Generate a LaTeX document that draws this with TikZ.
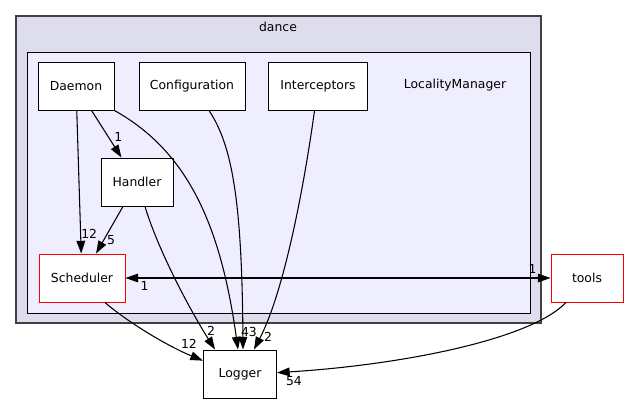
\documentclass[tikz,border=0pt]{standalone}
\usepackage{fontspec}
\setmainfont{DejaVu Sans}
\usepackage{xcolor}
\usepackage{tikz}
\usetikzlibrary{arrows.meta, positioning}
\definecolor{dancefill}{HTML}{DDDDEE}
\definecolor{localfill}{HTML}{EEEEFF}
\definecolor{dirred}{HTML}{FF0000}
\tikzstyle{cluster} = [draw=black!75, line width=0.9pt]
\tikzstyle{dir} = [rectangle, minimum width=54pt, minimum height=36pt, text centered, draw=black, line width=0.75pt, fill=white, font=\fontsize{9.3}{11}\selectfont]
\tikzstyle{extdir} = [dir, draw=dirred]
\tikzstyle{arrow} = [line width=0.8pt, ->, >={Triangle[length=9.5pt,width=6.5pt]}]
\tikzstyle{deplabel} = [inner sep=0pt, font=\fontsize{9.3}{11}\selectfont]

\begin{document}
\begin{tikzpicture}[x=0.75pt, y=0.75pt, node distance=72pt]
        \useasboundingbox (0,0) rectangle (629,-404);
        % clusters
        \filldraw [cluster, fill=dancefill] (16,-16) rectangle (541,-323);
        \filldraw [cluster, draw=black, line width=0.75pt, fill=localfill] (27,-52) rectangle (530,-313);
        \node (dance) [deplabel] at (278,-27) {dance};
        \node (locality) [deplabel] at (455,-85) {LocalityManager};

        \node (daemon) [dir, minimum width=57pt] at (76,-86) {Daemon};
        \node (config) [dir, minimum width=79.5pt, right of=daemon, xshift=15pt] {Configuration};
        \node (intercept) [dir, minimum width=74.25pt, right of=config, xshift=22.5pt] {Interceptors};
        \node (handler) [dir, below of=daemon, xshift=45.75pt] {Handler};
        \node (sched) [extdir, minimum width=64.5pt, below of=handler, xshift=-41.25pt] {Scheduler};
        \node (tools) [extdir, right of=sched, xshift=306.75pt] {tools};
        \node (logger) [dir, minimum width=54.75pt, below of=sched, xshift=118.5pt] {Logger};

        \draw [arrow] (daemon) -- (sched) node [deplabel, at end, xshift=6pt, yshift=15pt] {12};
        \draw [arrow] (daemon) -- (handler) node [deplabel, at end, xshift=-2.25pt, yshift=15.75pt] {1};
        \draw [arrow] (handler) -- (sched) node [deplabel, at end, xshift=11.25pt, yshift=9.75pt] {5};
        \draw [arrow, <->] (sched) -- (tools) node [deplabel, at start, xshift=14.25pt, yshift=-6pt] {1} node [deplabel, at end, xshift=-13.5pt, yshift=6.75pt] {1};
        \draw [arrow] (daemon.south east) .. controls (185,-150) and (220,-220) .. ([xshift=-1.5pt]logger.north);
        \draw [arrow] ([xshift=12.75pt]config.south) .. controls (232,-145) and (242,-200) .. ([xshift=2.25pt]logger.north) node [deplabel, at end, xshift=4.5pt, yshift=13.5pt] {43};
        \draw [arrow] ([xshift=-2.6pt]intercept.south) .. controls (305,-180) and (285,-290) .. ([xshift=10.5pt]logger.north) node [deplabel, at end, xshift=10.5pt, yshift=9.75pt] {2};
        \draw [arrow] ([xshift=6pt]handler.south) .. controls (158,-250) and (190,-310) .. ([xshift=-18.75pt]logger.north) node [deplabel, at end, xshift=-3pt, yshift=14.25pt] {2};
        \draw [arrow] ([xshift=17.25pt]sched.south) .. controls (125,-320) and (165,-345) .. ([yshift=10pt]logger.west) node [deplabel, at end, xshift=-10.5pt, yshift=12.75pt] {12};
        \draw [arrow] ([xshift=-15.75pt]tools.south) .. controls (530,-340) and (400,-365) .. ([yshift=1pt]logger.east) node [deplabel, at end, xshift=12.75pt, yshift=-6pt] {54};
    \end{tikzpicture}
\end{document}
